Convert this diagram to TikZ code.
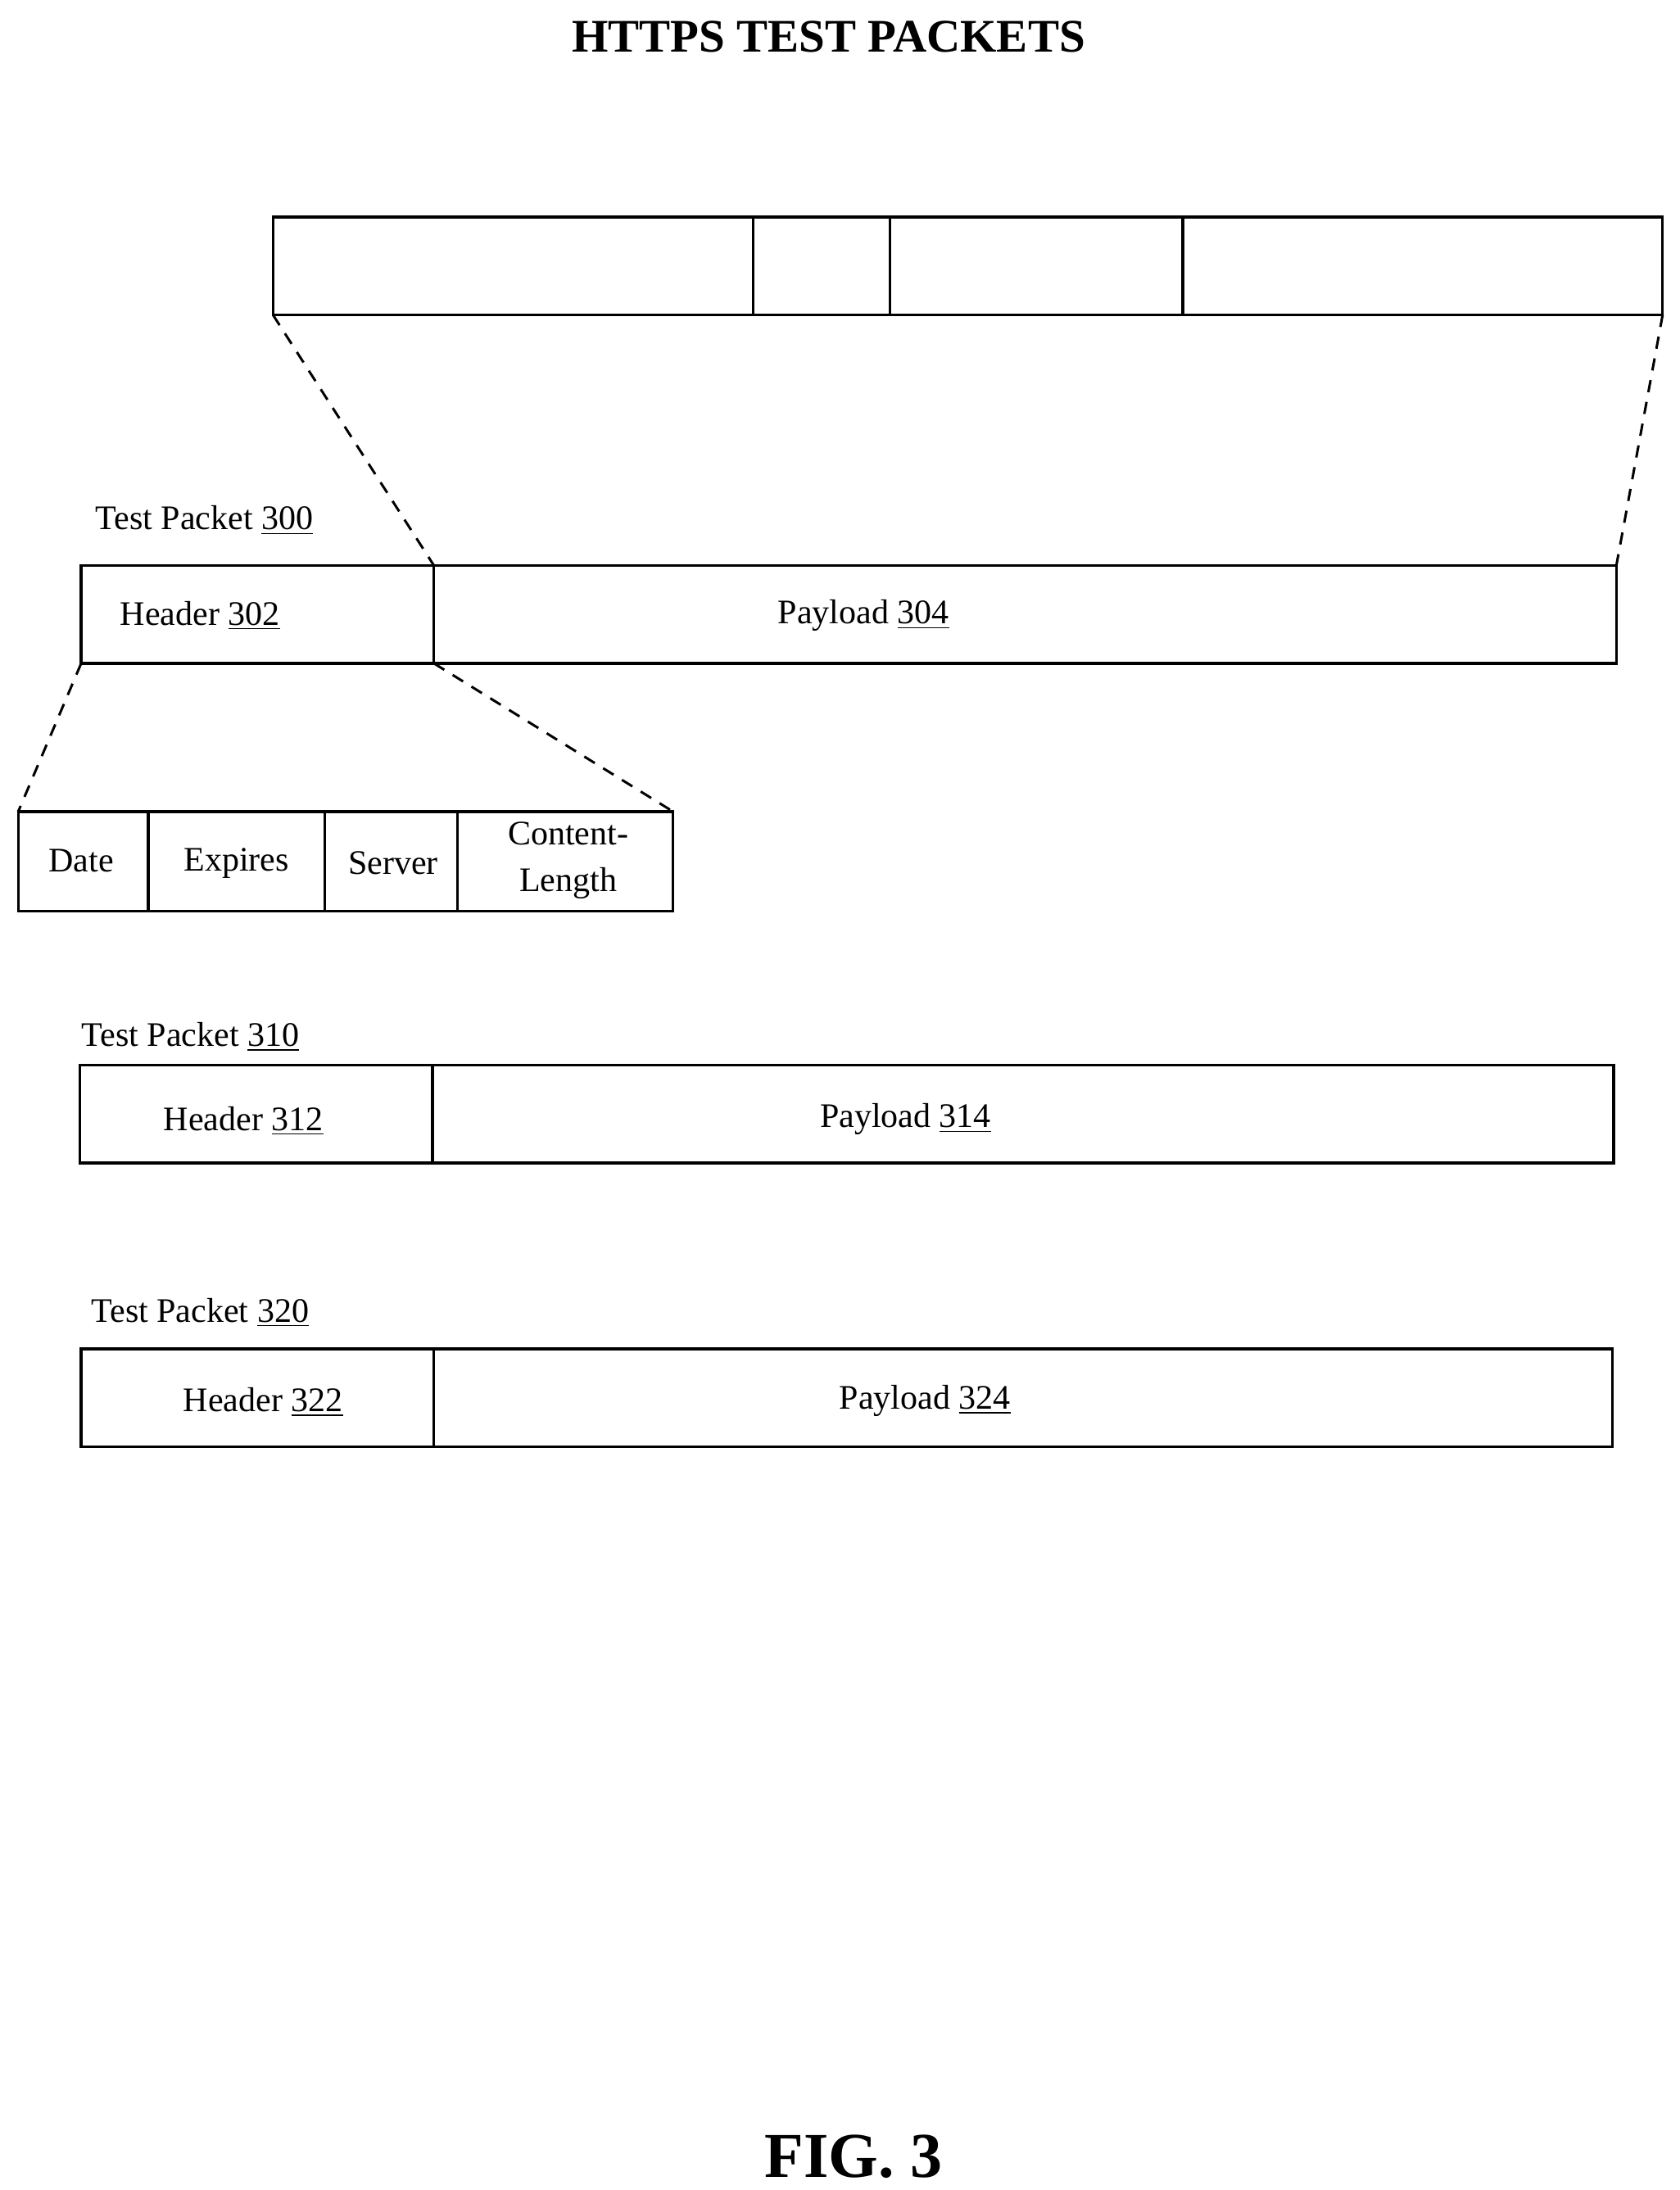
\documentclass[tikz,border=0pt]{standalone}
\usepackage{fontspec}
\setmainfont{Liberation Serif}
\begin{document}
\begin{tikzpicture}[x=0.02cm,y=-0.02cm,
  cell/.style={draw,line width=1.1pt,inner sep=0pt,outer sep=0pt,minimum height=1.4cm},
  lbl/.style={font=\fontsize{14}{16}\selectfont,inner sep=0pt},
  zoomline/.style={line width=1pt,dash pattern=on 5pt off 4pt}]
\useasboundingbox (0,0) rectangle (1200,1565);
\node[font=\bfseries\fontsize{19}{22}\selectfont] (title) at (592,26) {HTTPS TEST PACKETS};
% top bar
\node[cell,minimum width=6.86cm] (ta) at (366.5,190) {};
\node[cell,minimum width=1.96cm] (tb) at (587,190) {};
\node[cell,minimum width=4.18cm] (tc) at (740.5,190) {};
\node[cell,minimum width=6.86cm] (td) at (1016.5,190) {};
% packet 300
\node[lbl,anchor=west] (l300) at (68,372) {Test Packet \underline{300}};
\node[cell,minimum width=5.04cm] (h1) at (184,439) {};
\node[cell,minimum width=16.9cm] (p1) at (732.5,439) {};
\node[lbl] (th1) at (143,440) {Header \underline{302}};
\node[lbl] (tp1) at (617,440) {Payload \underline{304}};
% fields
\node[cell,minimum width=1.86cm,minimum height=1.42cm] (f1) at (59.5,615.5) {};
\node[cell,minimum width=2.52cm,minimum height=1.42cm] (f2) at (169,615.5) {};
\node[cell,minimum width=1.9cm,minimum height=1.42cm] (f3) at (279.5,615.5) {};
\node[cell,minimum width=3.08cm,minimum height=1.42cm] (f4) at (404,615.5) {};
\node[lbl] (tf1) at (58,615) {Date};
\node[lbl] (tf2) at (169,617) {Expires};
\node[lbl] (tf3) at (281,617) {Server};
\node[lbl,align=center] (tf4) at (406,615) {Content-\\[3pt]Length};
% connectors
\draw[zoomline] (ta.south west) -- (h1.north east);
\draw[zoomline] (td.south east) -- (p1.north east);
\draw[zoomline] (h1.south west) -- (f1.north west);
\draw[zoomline] (h1.south east) -- (f4.north east);
% packet 310
\node[lbl,anchor=west] (l310) at (58,741) {Test Packet \underline{310}};
\node[cell,minimum width=5.04cm] (h2) at (183,796) {};
\node[cell,minimum width=16.88cm] (p2) at (731,796) {};
\node[lbl] (th2) at (174,801) {Header \underline{312}};
\node[lbl] (tp2) at (647,800) {Payload \underline{314}};
% packet 320
\node[lbl,anchor=west] (l320) at (65,938) {Test Packet \underline{320}};
\node[cell,minimum width=5.04cm] (h3) at (184,999) {};
\node[cell,minimum width=16.84cm] (p3) at (731,999) {};
\node[lbl] (th3) at (188,1002) {Header \underline{322}};
\node[lbl] (tp3) at (661,1001) {Payload \underline{324}};
\node[font=\bfseries\fontsize{26}{30}\selectfont] (fig) at (610,1541) {FIG. 3};
\end{tikzpicture}
\end{document}
